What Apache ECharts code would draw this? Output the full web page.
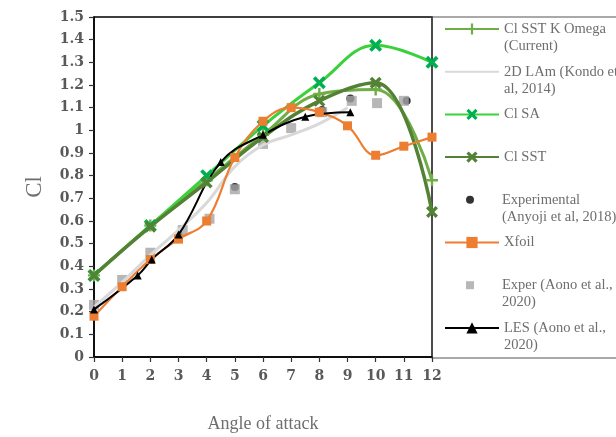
<!DOCTYPE html>
<html>
<head>
<meta charset="utf-8">
<script src="https://cdn.jsdelivr.net/npm/echarts@6/dist/echarts.min.js"></script>
<style>
  html, body { margin: 0; padding: 0; background: #fff; }
  #main { width: 616px; height: 437px; }
</style>
</head>
<body>
<div id="main"></div>
<script>
// values
var rans = [0, 2, 4, 6, 8, 10, 12];
var clSstKOmega = [0.36, 0.58, 0.78, 0.98, 1.16, 1.18, 0.78];
var clSa = [0.36, 0.58, 0.80, 1.02, 1.21, 1.375, 1.30];
var clSst = [0.36, 0.575, 0.77, 0.97, 1.13, 1.21, 0.64];

var kondoAoa = [0, 1, 2, 3, 4, 5, 6, 7, 8, 9];
var kondoCl = [0.22, 0.33, 0.45, 0.56, 0.68, 0.84, 0.935, 0.98, 1.03, 1.10];

var anyojiAoa = [3, 5, 8.1, 9.1, 11.1];
var anyojiCl = [0.54, 0.75, 1.09, 1.14, 1.13];

var xfoilAoa = [0, 1, 2, 3, 4, 5, 6, 7, 8, 9, 10, 11, 12];
var xfoilCl = [0.18, 0.31, 0.43, 0.52, 0.60, 0.88, 1.04, 1.10, 1.08, 1.02, 0.89, 0.93, 0.97];

var aonoExpAoa = [0, 1, 2, 3.15, 4.1, 5, 6, 7, 8.1, 9.15, 10.05, 11];
var aonoExpCl = [0.23, 0.34, 0.46, 0.56, 0.61, 0.74, 0.94, 1.01, 1.08, 1.13, 1.12, 1.13];

var lesAoa = [0, 1.55, 2.05, 3, 4.5, 6, 7.5, 9.1];
var lesCl = [0.21, 0.36, 0.43, 0.54, 0.86, 0.98, 1.06, 1.08];

var names = [
  'Cl SST K Omega\n(Current)',
  '2D LAm (Kondo et\nal, 2014)',
  'Cl SA',
  'Cl SST',
  'Experimental\n(Anyoji et al, 2018)',
  'Xfoil',
  'Exper (Aono et al.,\n2020)',
  'LES (Aono et al.,\n2020)'
];

function pairs(xs, ys) {
  return xs.map(function (x, i) { return [x, ys[i]]; });
}

var crossPath = 'path://M2,0L5,3L8,0L10,2L7,5L10,8L8,10L5,7L2,10L0,8L3,5L0,2Z';
var plusPath = 'path://M4,0H6V4H10V6H6V10H4V6H0V4H4Z';
var serif = '"Liberation Serif", "DejaVu Serif", serif';
var boldSerif = '"DejaVu Serif", "Liberation Serif", serif';

var chart = echarts.init(document.getElementById('main'));

// one legend per entry; two-line names get a blank first line so that
// their first real line sits beside the icon
var legends = names.map(function (name, i) {
  var c = 29 + i * 42.7;
  var twoLines = name.indexOf('\n') >= 0;
  var scatter = (i === 4 || i === 6);
  var lg = {
    data: [name],
    orient: 'vertical',
    left: scatter ? 466 : 444,
    top: twoLines ? c - 25.5 : c - 8.5,
    padding: 0,
    itemWidth: scatter ? 8 : 54,
    itemHeight: scatter ? 8 : 14,
    selectedMode: false,
    formatter: function (n) { return n.indexOf('\n') >= 0 ? '\n' + n : n; },
    textStyle: {
      fontFamily: serif,
      fontSize: 14.5,
      color: '#6e6e6e',
      lineHeight: 17,
      padding: [0, 0, 0, scatter ? 23 : 0]
    }
  };
  if (scatter) {
    lg.icon = i === 4 ? 'circle' : 'path://M0,0H10V10H0Z';
  }
  if (i === 1) {
    lg.itemStyle = { opacity: 0 };
  }
  return lg;
});

chart.setOption({
  animation: false,
  grid: {
    left: 94, right: 184, top: 17, bottom: 80,
    outerBoundsMode: 'none',
    show: true, borderColor: '#000', borderWidth: 1.5
  },
  graphic: [{
    type: 'rect',
    shape: { x: 432, y: 17, width: 190, height: 341 },
    style: { fill: 'none', stroke: '#555', lineWidth: 1.2 },
    z: 0
  }],
  legend: legends,
  xAxis: {
    type: 'value', min: 0, max: 12, interval: 1,
    name: 'Angle of attack', nameLocation: 'middle', nameGap: 58,
    nameTextStyle: { fontFamily: serif, fontSize: 18, color: '#6e6e6e' },
    axisLine: { lineStyle: { color: '#000', width: 1.5 } },
    axisTick: { length: 5, lineStyle: { color: '#333', width: 1.2 } },
    axisLabel: { fontFamily: boldSerif, fontSize: 14, fontWeight: 'bold', color: '#595959', margin: 12 },
    splitLine: { show: false }
  },
  yAxis: {
    type: 'value', min: 0, max: 1.5, interval: 0.1,
    name: 'Cl', nameLocation: 'middle', nameGap: 48,
    nameTextStyle: { fontFamily: serif, fontSize: 23, color: '#6e6e6e' },
    axisLine: { show: true, lineStyle: { color: '#000', width: 1.5 } },
    axisTick: { show: true, length: 5, lineStyle: { color: '#333', width: 1.2 } },
    axisLabel: { fontFamily: boldSerif, fontSize: 14, fontWeight: 'bold', color: '#595959', margin: 10 },
    splitLine: { show: false }
  },
  series: [
    {
      name: names[0], type: 'line', smooth: 0.4,
      data: pairs(rans, clSstKOmega),
      symbol: plusPath, symbolSize: 12,
      lineStyle: { color: '#70AD47', width: 3 },
      itemStyle: { color: '#70AD47' }
    },
    {
      name: names[1], type: 'line', smooth: 0.4,
      data: pairs(kondoAoa, kondoCl),
      symbol: 'none',
      lineStyle: { color: '#D9D9D9', width: 3 },
      itemStyle: { color: '#D9D9D9' }
    },
    {
      name: names[2], type: 'line', smooth: 0.4,
      data: pairs(rans, clSa),
      symbol: crossPath, symbolSize: 13,
      lineStyle: { color: '#3BD13B', width: 3 },
      itemStyle: { color: '#00B050' }
    },
    {
      name: names[3], type: 'line', smooth: 0.4,
      data: pairs(rans, clSst),
      symbol: crossPath, symbolSize: 12,
      lineStyle: { color: '#548235', width: 3.5 },
      itemStyle: { color: '#548235' }
    },
    {
      name: names[4], type: 'scatter',
      data: pairs(anyojiAoa, anyojiCl),
      symbol: 'circle', symbolSize: 8,
      itemStyle: { color: '#000' }
    },
    {
      name: names[5], type: 'line', smooth: 0.4,
      data: pairs(xfoilAoa, xfoilCl),
      symbol: 'rect', symbolSize: 9,
      lineStyle: { color: '#ED7D31', width: 2.2 },
      itemStyle: { color: '#ED7D31' }
    },
    {
      name: names[6], type: 'scatter',
      data: pairs(aonoExpAoa, aonoExpCl),
      symbol: 'rect', symbolSize: 10,
      itemStyle: { color: '#A5A5A5' }
    },
    {
      name: names[7], type: 'line', smooth: 0.4,
      data: pairs(lesAoa, lesCl),
      symbol: 'triangle', symbolSize: 8,
      lineStyle: { color: '#000', width: 2 },
      itemStyle: { color: '#000' }
    }
  ]
});
</script>
</body>
</html>
